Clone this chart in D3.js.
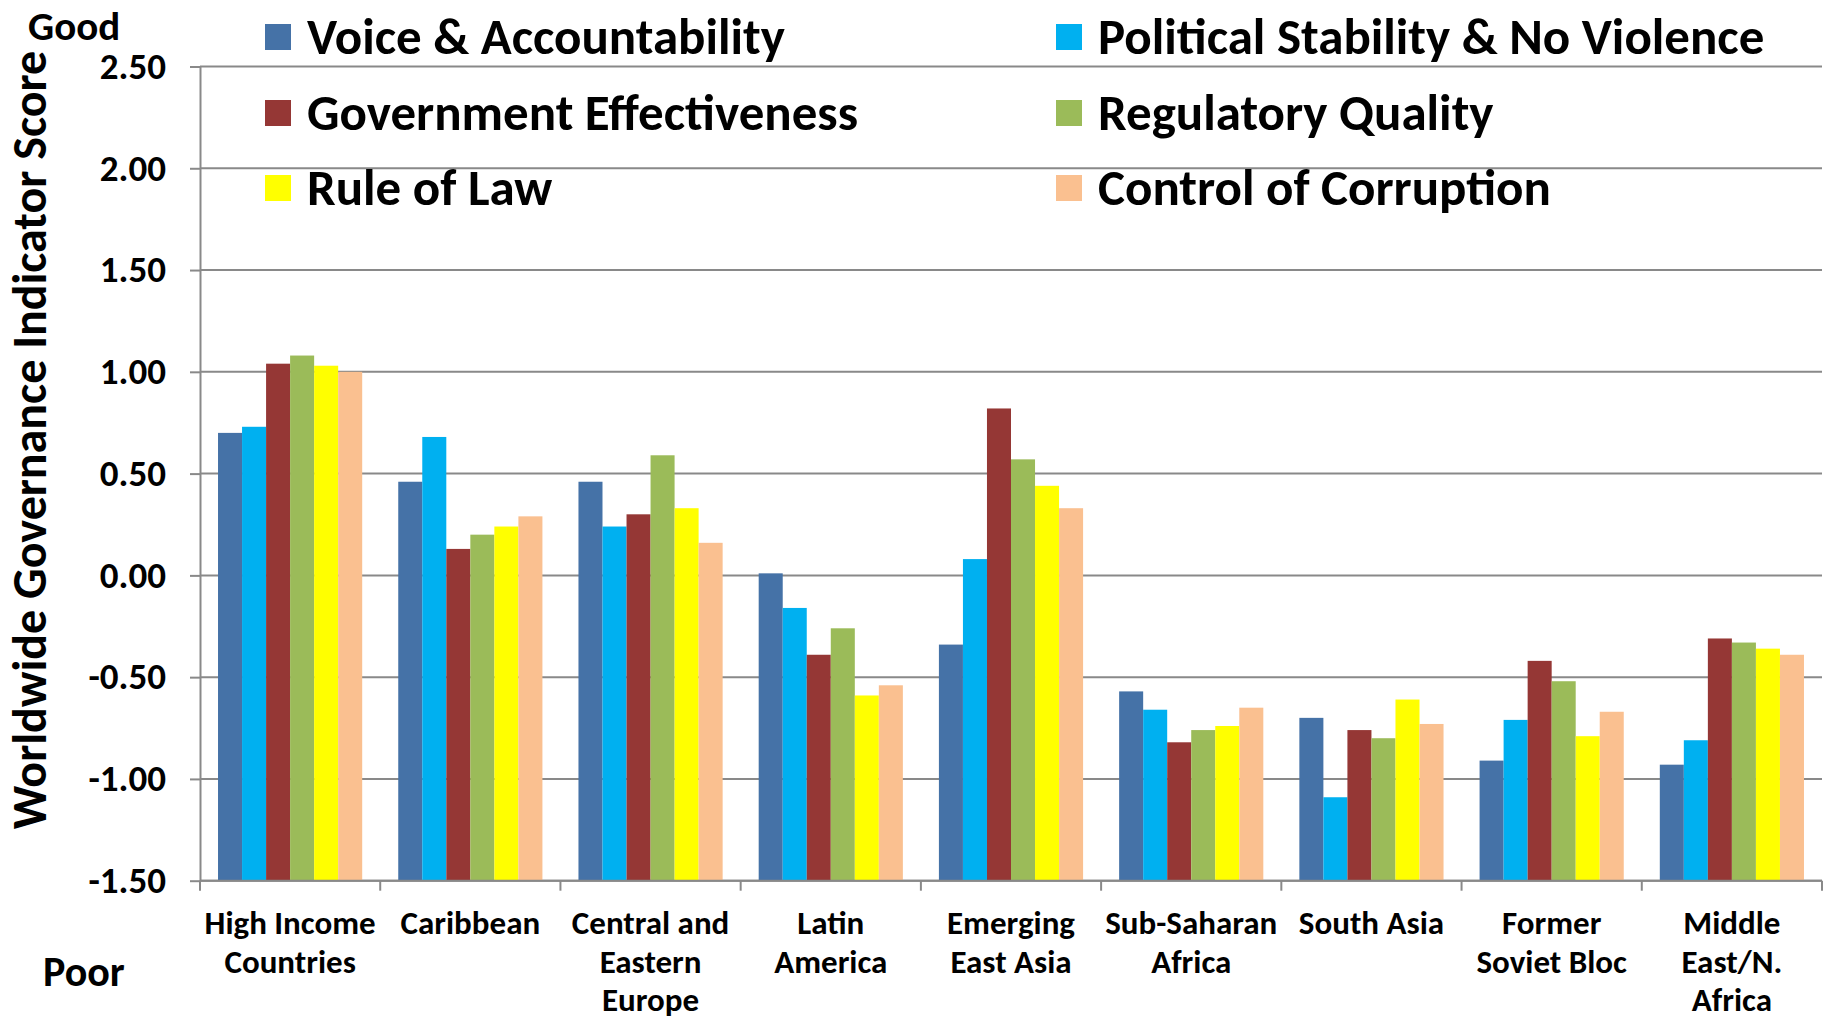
<!DOCTYPE html>
<html>
<head>
<meta charset="utf-8">
<script src="https://cdn.jsdelivr.net/npm/d3@7/dist/d3.min.js"></script>
<style>
  html, body { margin: 0; padding: 0; background: #ffffff; }
  svg { display: block; }
  text { font-family: Calibri, Carlito, Lato, sans-serif; font-weight: 700; fill: #000; }
</style>
</head>
<body>
<svg id="chart" width="1829" height="1021"></svg>
<script>
// Regions (line breaks mark where the axis labels wrap)
const categories = [
  "High Income\nCountries",
  "Caribbean",
  "Central and\nEastern\nEurope",
  "Latin\nAmerica",
  "Emerging\nEast Asia",
  "Sub-Saharan\nAfrica",
  "South Asia",
  "Former\nSoviet Bloc",
  "Middle\nEast/N.\nAfrica"
];

// Governance indicators, in legend order
const seriesNames = [
  "Voice & Accountability",
  "Political Stability & No Violence",
  "Government Effectiveness",
  "Regulatory Quality",
  "Rule of Law",
  "Control of Corruption"
];

const seriesColors = ["#4572A7", "#00B0F0", "#953735", "#9BBB59", "#FFFF00", "#FAC090"];

// Scores per region, one array per indicator
const voiceAccountability   = [0.70, 0.46, 0.46, 0.01, -0.34, -0.57, -0.70, -0.91, -0.93];
const politicalStability    = [0.73, 0.68, 0.24, -0.16, 0.08, -0.66, -1.09, -0.71, -0.81];
const govEffectiveness      = [1.04, 0.13, 0.30, -0.39, 0.82, -0.82, -0.76, -0.42, -0.31];
const regulatoryQuality     = [1.08, 0.20, 0.59, -0.26, 0.57, -0.76, -0.80, -0.52, -0.33];
const ruleOfLaw             = [1.03, 0.24, 0.33, -0.59, 0.44, -0.74, -0.61, -0.79, -0.36];
const controlOfCorruption   = [1.00, 0.29, 0.16, -0.54, 0.33, -0.65, -0.73, -0.67, -0.39];

const yTicks = [-1.5, -1.0, -0.5, 0.0, 0.5, 1.0, 1.5, 2.0, 2.5];

const seriesValues = [
  voiceAccountability, politicalStability, govEffectiveness,
  regulatoryQuality, ruleOfLaw, controlOfCorruption
];

const svg = d3.select("#chart");
const plot = { left: 200, right: 1822, top: 66.5, bottom: 880.7 };
const gridColor = "#898989";

const x0 = d3.scaleBand()
  .domain(categories)
  .range([plot.left, plot.right])
  .paddingInner(0)
  .paddingOuter(0);

const x1 = d3.scaleBand()
  .domain(seriesNames)
  .range([0, x0.bandwidth()])
  .paddingInner(0)
  .paddingOuter(0.75);

const y = d3.scaleLinear()
  .domain([-1.5, 2.5])
  .range([plot.bottom, plot.top]);

// The category axis crosses at the bottom of the value range, so bars rise from there
const baseValue = y.domain()[0];

// Horizontal gridlines
svg.append("g")
  .selectAll("line")
  .data(yTicks)
  .join("line")
  .attr("x1", plot.left)
  .attr("x2", plot.right)
  .attr("y1", d => y(d))
  .attr("y2", d => y(d))
  .attr("stroke", gridColor)
  .attr("stroke-width", 2);

// Bars
const color = d3.scaleOrdinal().domain(seriesNames).range(seriesColors);
const groups = svg.append("g")
  .selectAll("g")
  .data(categories)
  .join("g")
  .attr("transform", d => `translate(${x0(d)},0)`);

groups.selectAll("rect")
  .data((d, i) => seriesNames.map((s, k) => ({ series: s, value: seriesValues[k][i] })))
  .join("rect")
  .attr("x", d => x1(d.series))
  .attr("width", x1.bandwidth())
  .attr("y", d => y(d.value))
  .attr("height", d => y(baseValue) - y(d.value))
  .attr("fill", d => color(d.series));

// Y axis
const yAxis = svg.append("g")
  .attr("transform", `translate(${plot.left},0)`)
  .call(d3.axisLeft(y).tickValues(yTicks).tickFormat(d3.format(".2f")).tickSizeInner(10).tickSizeOuter(0).tickPadding(24));
yAxis.select(".domain").attr("stroke", gridColor).attr("stroke-width", 2);
yAxis.selectAll(".tick line").attr("stroke", gridColor).attr("stroke-width", 2);
yAxis.selectAll(".tick text")
  .style("font-size", "37px")
  .attr("fill", "#000")
  .text(d => d3.format(".2f")(d).replace("−", "-"));

// X axis: tick marks at category boundaries
const boundaries = categories.map(c => x0(c)).concat([plot.right]);
svg.append("line")
  .attr("x1", plot.left).attr("x2", plot.right)
  .attr("y1", plot.bottom).attr("y2", plot.bottom)
  .attr("stroke", gridColor).attr("stroke-width", 2);
svg.append("g")
  .selectAll("line")
  .data(boundaries)
  .join("line")
  .attr("x1", d => d).attr("x2", d => d)
  .attr("y1", plot.bottom).attr("y2", plot.bottom + 10)
  .attr("stroke", gridColor).attr("stroke-width", 2);

// Category labels
const catLabels = svg.append("g")
  .selectAll("text")
  .data(categories)
  .join("text")
  .attr("text-anchor", "middle")
  .style("font-size", "33px")
  .attr("transform", d => `translate(${x0(d) + x0.bandwidth() / 2},934)`);
catLabels.selectAll("tspan")
  .data(d => d.split("\n"))
  .join("tspan")
  .attr("x", 0)
  .attr("y", (d, i) => i * 38.5)
  .text(d => d);

// Y axis title and the Good / Poor markers
svg.append("text")
  .attr("transform", "translate(46,440) rotate(-90)")
  .attr("text-anchor", "middle")
  .style("font-size", "48px")
  .text("Worldwide Governance Indicator Score");

svg.append("text").attr("x", 28).attr("y", 40).style("font-size", "41px").text("Good");
svg.append("text").attr("x", 43).attr("y", 986).style("font-size", "42px").text("Poor");

// Legend: two columns, three rows
const legend = svg.append("g")
  .selectAll("g")
  .data(seriesNames)
  .join("g")
  .attr("transform", (d, i) => `translate(${i % 2 === 0 ? 265 : 1056},${[37, 113, 188][Math.floor(i / 2)]})`);
legend.append("rect")
  .attr("x", 0).attr("y", -13)
  .attr("width", 26).attr("height", 26)
  .attr("fill", d => color(d));
legend.append("text")
  .attr("x", 42).attr("y", 17)
  .style("font-size", "51px")
  .text(d => d);
</script>
</body>
</html>
